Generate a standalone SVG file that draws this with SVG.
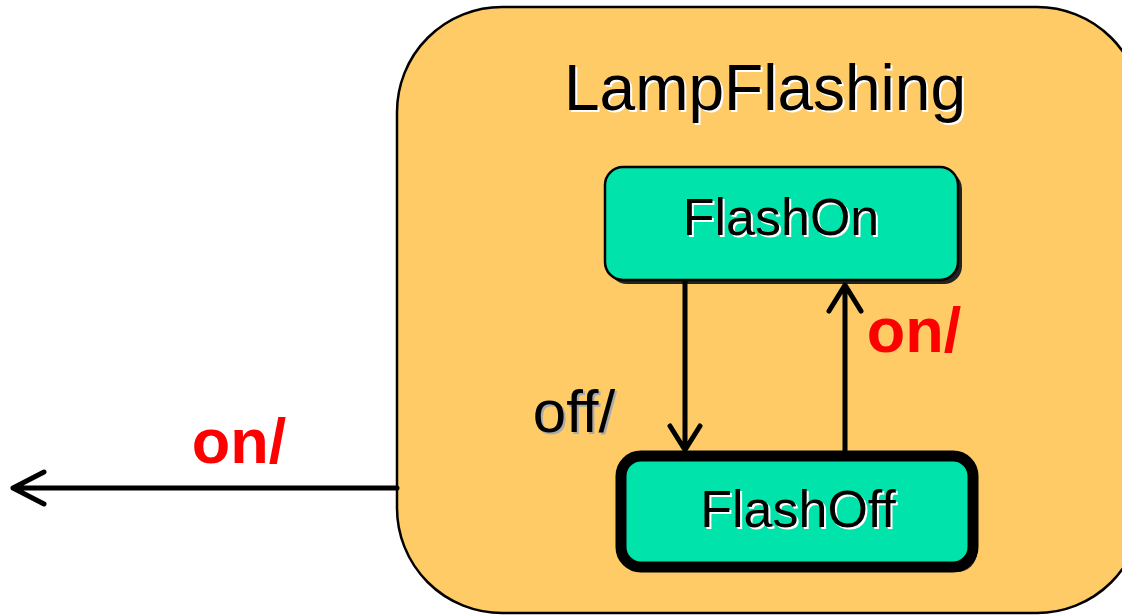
<svg xmlns="http://www.w3.org/2000/svg" width="1122" height="616" viewBox="0 0 1122 616">
<style>
.lbl{font-family:"Liberation Sans",Arial,sans-serif;text-anchor:middle}
.shw{fill:#fff}
.ev{font-family:"Liberation Sans",Arial,sans-serif;font-weight:bold;fill:#ff0000;text-anchor:middle}
.conn{stroke:#000;stroke-width:5;fill:none;stroke-linecap:round;stroke-linejoin:round}
</style>
<rect width="1122" height="616" fill="#fff"/>
<g id="LampFlashing">
<rect x="397" y="7" width="745" height="606" rx="105" fill="#FECB66" stroke="#000" stroke-width="2.5"/>
<text class="lbl shw" x="767" y="112" font-size="64">LampFlashing</text>
<text class="lbl" x="765" y="110" font-size="64">LampFlashing</text>
</g>
<g id="FlashOn">
<rect x="609" y="171" width="353" height="113" rx="18" fill="#222"/>
<rect x="605" y="167" width="353" height="113" rx="18" fill="#00E3AA" stroke="#000" stroke-width="2.5"/>
<text class="lbl shw" x="783" y="237" font-size="52">FlashOn</text>
<text class="lbl" x="781" y="235" font-size="52">FlashOn</text>
</g>
<g id="FlashOff">
<rect x="625" y="460" width="352" height="112" rx="20" fill="#222"/>
<rect x="621" y="456" width="352" height="111" rx="20" fill="#00E3AA" stroke="#000" stroke-width="11"/>
<text class="lbl shw" x="800" y="529" font-size="52">FlashOff</text>
<text class="lbl" x="798" y="527" font-size="52">FlashOff</text>
</g>
<g id="connectors">
<path class="conn" d="M685 282 V450 M670 426 L685 450 L700 426"/>
<path class="conn" d="M845 452 V285 M829 311 L845 285 L861 311"/>
<path class="conn" d="M397 488 H13 M44 472 L13 488 L44 504"/>
<text class="lbl" x="576" y="434" font-size="60" fill="#aaa">off/</text>
<text class="lbl" x="574" y="432" font-size="60">off/</text>
<text class="ev" x="914" y="352" font-size="63">on/</text>
<text class="ev" x="239" y="463" font-size="63">on/</text>
</g>
</svg>
